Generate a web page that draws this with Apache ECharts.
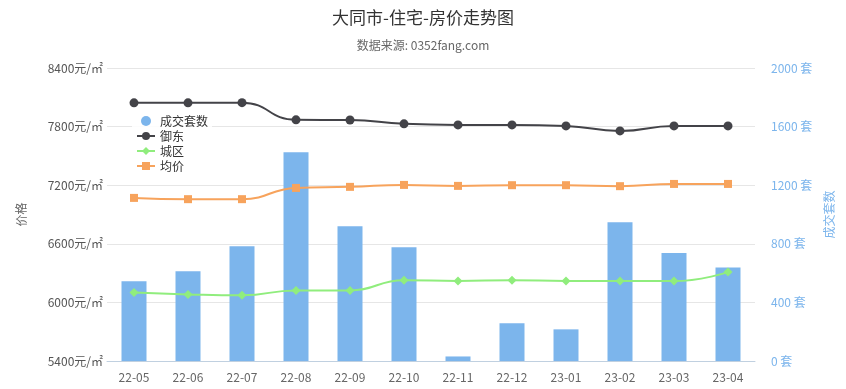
<!DOCTYPE html>
<html>
<head>
<meta charset="utf-8">
<script src="https://cdn.jsdelivr.net/npm/echarts@6/dist/echarts.min.js"></script>
<style>html,body{margin:0;padding:0;background:#fff}#c{width:846px;height:389px}</style>
</head>
<body>
<div id="c"></div>
<script>
var categories = ['22-05','22-06','22-07','22-08','22-09','22-10','22-11','22-12','23-01','23-02','23-03','23-04'];
var dealCount = [544, 612, 783, 1425, 919, 776, 31, 257, 216, 947, 737, 639];
var yudong = [8043, 8043, 8045, 7869, 7868, 7828, 7817, 7817, 7807, 7756, 7807, 7807];
var chengqu = [6102, 6082, 6072, 6123, 6123, 6228, 6218, 6228, 6218, 6218, 6218, 6310];
var junjia = [7070, 7057, 7057, 7172, 7183, 7203, 7193, 7200, 7200, 7190, 7213, 7213];
var priceTicks = {min: 5400, max: 8400, interval: 600};
var countTicks = {min: 0, max: 2000, interval: 400};

var font = '"Noto Sans CJK SC", "Noto Sans", sans-serif';
var chart = echarts.init(document.getElementById('c'), null, {renderer: 'canvas'});
chart.setOption({
  animation: false,
  textStyle: {fontFamily: font},
  title: {
    text: '大同市-住宅-房价走势图',
    subtext: '数据来源: 0352fang.com',
    left: 'center',
    top: 4,
    itemGap: 13,
    textStyle: {fontSize: 17, fontWeight: 'normal', color: '#333', fontFamily: font},
    subtextStyle: {fontSize: 12, color: '#666', fontFamily: font}
  },
  legend: {
    orient: 'vertical',
    left: 132,
    top: 114,
    itemWidth: 18,
    itemHeight: 10,
    itemGap: 1,
    padding: [0, 4],
    backgroundColor: 'rgba(255,255,255,0.85)',
    textStyle: {fontSize: 12, color: '#333', fontFamily: font, lineHeight: 14},
    data: [{name: '成交套数', icon: 'circle'}, '御东', '城区', '均价']
  },
  grid: {left: 107, right: 91, top: 68, bottom: 28},
  xAxis: {
    type: 'category',
    data: categories,
    axisLine: {lineStyle: {color: '#c0d0e0'}},
    axisTick: {show: false},
    axisLabel: {color: '#666', fontSize: 12, margin: 10}
  },
  yAxis: [{
    type: 'value',
    min: priceTicks.min, max: priceTicks.max, interval: priceTicks.interval,
    name: '价格',
    nameLocation: 'middle',
    nameGap: 80,
    nameTextStyle: {color: '#666', fontSize: 12},
    axisLabel: {formatter: function (v) { return v + '元/㎡'; }, color: '#555', fontSize: 12, margin: 4},
    axisLine: {show: false},
    axisTick: {show: false},
    splitLine: {lineStyle: {color: '#e6e6e6'}}
  }, {
    type: 'value',
    min: countTicks.min, max: countTicks.max, interval: countTicks.interval,
    name: '成交套数',
    nameLocation: 'middle',
    nameGap: 66,
    nameTextStyle: {color: '#7cb5ec', fontSize: 12},
    axisLabel: {formatter: function (v) { return v + ' 套'; }, color: '#7cb5ec', fontSize: 12, margin: 16},
    axisLine: {show: false},
    axisTick: {show: false},
    splitLine: {show: false}
  }],
  series: [{
    name: '成交套数',
    type: 'bar',
    yAxisIndex: 1,
    barWidth: 25,
    itemStyle: {color: '#7cb5ec'},
    data: dealCount,
    z: 1
  }, {
    name: '御东',
    type: 'line',
    smooth: true,
    symbol: 'circle',
    symbolSize: 9,
    lineStyle: {width: 2, color: '#434348'},
    itemStyle: {color: '#434348'},
    data: yudong,
    z: 3
  }, {
    name: '城区',
    type: 'line',
    smooth: true,
    symbol: 'diamond',
    symbolSize: 9,
    lineStyle: {width: 2, color: '#90ed7d'},
    itemStyle: {color: '#90ed7d'},
    data: chengqu,
    z: 3
  }, {
    name: '均价',
    type: 'line',
    smooth: true,
    symbol: 'rect',
    symbolSize: 8,
    lineStyle: {width: 2, color: '#f7a35c'},
    itemStyle: {color: '#f7a35c'},
    data: junjia,
    z: 3
  }]
});
</script>
</body>
</html>
